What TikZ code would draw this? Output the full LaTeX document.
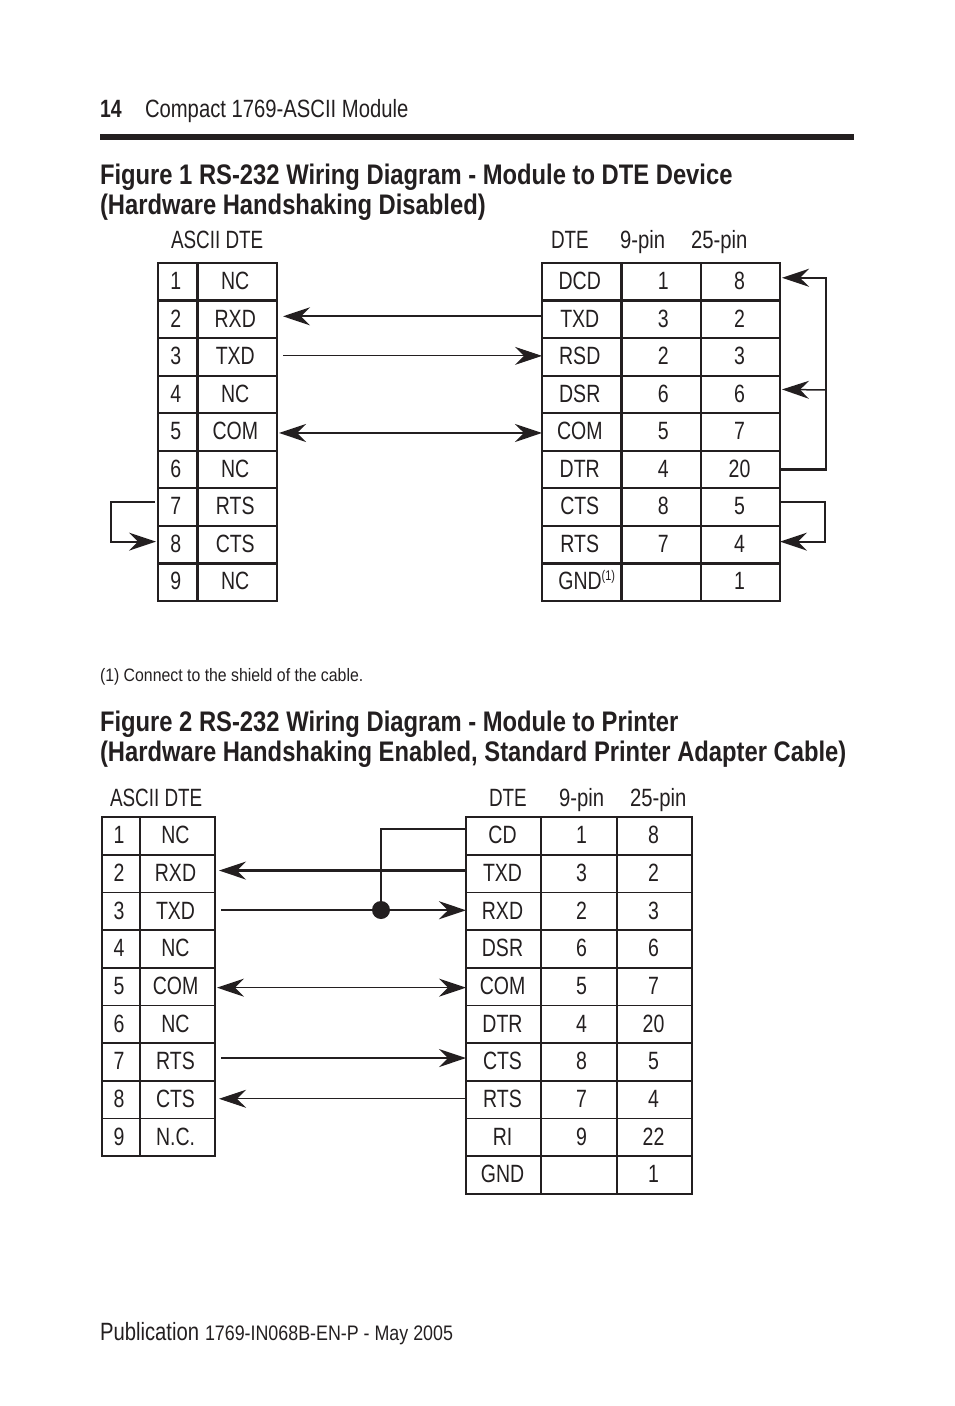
\documentclass[tikz,border=0pt]{standalone}
\usepackage{fontspec}
\usepackage{xcolor}
\usetikzlibrary{arrows.meta}
\setmainfont[FakeStretch=0.78]{Liberation Sans}
\newfontfamily\capfont[FakeStretch=0.755]{Liberation Sans}
\newfontfamily\lowfont[FakeStretch=0.81]{Liberation Sans}
\newfontfamily\headfont[FakeStretch=0.84]{Liberation Sans}
\newfontfamily\notefont[FakeStretch=0.88]{Liberation Sans}
\newfontfamily\pubfont[FakeStretch=0.85]{Liberation Sans}
\definecolor{inkblack}{HTML}{231F20}
\def\bodysize{\fontsize{25}{30}\selectfont}
\def\headsize{\fontsize{28.3}{30}\selectfont\headfont\bfseries}
\def\notesize{\fontsize{18}{22}\selectfont\notefont}
\tikzset{
  label/.style={anchor=base west,inner sep=0pt,outer sep=0pt,text=inkblack,font=\bodysize},
  caplabel/.style={label,font=\bodysize\capfont},
  lowlabel/.style={label,font=\bodysize\lowfont},
  head/.style={label,font=\headsize},
  note/.style={label,font=\notesize},
  nudge/.style={execute at begin node={\kern #1pt}},
  cellbox/.style={draw=inkblack,rectangle,inner sep=0pt,outer sep=0pt,text=inkblack,
    font=\bodysize,text height=18pt,text depth=2.5pt},
  cellone/.style={cellbox,line width=2.2pt,minimum height=37.55pt},
  celltwo/.style={cellbox,line width=1.7pt,minimum height=37.7pt},
  tip/.tip={Stealth[length=27pt,width=18pt,inset=9pt]},
  wire/.style={draw=inkblack,line width=2.2pt,>={tip}},
  thinwire/.style={wire,line width=1pt},
  tap/.style={circle,fill=inkblack,inner sep=0pt,minimum size=18pt}
}
\begin{document}
\begin{tikzpicture}[x=1pt,y=-1pt]
    \useasboundingbox (0,0) rectangle (954,1406);
    % page head
    \node[label,font=\bodysize\bfseries] (pagenum) at (100,117) {14};
    \node[lowlabel] (pagetitle) at (145,117) {Compact 1769-ASCII Module};
    \fill[inkblack] (100,134) rectangle (854,140);
    % figure 1
    \node[head] (titlea) at (100,184) {Figure 1 RS-232 Wiring Diagram - Module to DTE Device};
    \node[head] (titleb) at (100,214) {(Hardware Handshaking Disabled)};
    \node[caplabel] (asciia) at (171,248) {ASCII DTE};
    \node[caplabel] (dtea) at (551,248) {DTE};
    \node[lowlabel] (ninea) at (620,248) {9-pin};
    \node[lowlabel] (tfa) at (691,248) {25-pin};
    \foreach \i/\a in {1/NC,2/RXD,3/TXD,4/NC,5/COM,6/NC,7/RTS,8/CTS,9/NC} {
      \node[cellone,nudge=-4,minimum width=39.5pt] (ap\i) at (177.75,{263+(\i-.5)*37.55}) {\i};
      \node[cellone,nudge=-4,minimum width=79.5pt] (an\i) at (237.25,{263+(\i-.5)*37.55}) {\a};
    }
    \foreach \i/\a/\b/\c in {1/DCD/1/8,2/TXD/3/2,3/RSD/2/3,4/DSR/6/6,5/COM/5/7,6/DTR/4/20,7/CTS/8/5,8/RTS/7/4,
      9/{\kern14pt GND\raisebox{9pt}{\fontsize{14}{14}\selectfont(1)}}//1} {
      \node[cellone,nudge=-4,minimum width=79.5pt] (bn\i) at (581.75,{263+(\i-.5)*37.55}) {\a};
      \node[cellone,nudge=4,minimum width=79.5pt] (bp\i) at (661.25,{263+(\i-.5)*37.55}) {\b};
      \node[cellone,nudge=-2,minimum width=79pt] (bq\i) at (740.5,{263+(\i-.5)*37.55}) {\c};
    }
    \draw[wire,->] ([yshift=3pt]bn2.west) -- ([xshift=6pt,yshift=3pt]an2.east);
    \draw[thinwire,->] ([xshift=6pt,yshift=1pt]an3.east) -- ([yshift=1pt]bn3.west);
    \draw[wire,<->] ([xshift=2pt,yshift=-1pt]an5.east) -- ([yshift=-1pt]bn5.west);
    \draw[wire,->] (bq6.east) -- ++(46,0) |- ([xshift=2pt,yshift=4pt]bq1.east);
    \draw[wire,line width=1.5pt,->] (826,390) -- ([xshift=2pt,yshift=5pt]bq4.east);
    \draw[wire,->] ([yshift=5pt]bq7.east) -- ++(45,0) |- ([yshift=3pt]bq8.east);
    \draw[wire,->] ([xshift=-3pt,yshift=5pt]ap7.west) -- ++(-44,0) |- ([xshift=-2pt,yshift=3pt]ap8.west);
    \node[note] (shield) at (100,681) {(1) Connect to the shield of the cable.};
    % figure 2
    \node[head] (titlec) at (100,731) {Figure 2 RS-232 Wiring Diagram - Module to Printer};
    \node[head] (titled) at (100,761) {(Hardware Handshaking Enabled, Standard Printer Adapter Cable)};
    \node[caplabel] (asciib) at (110,806) {ASCII DTE};
    \node[caplabel] (dteb) at (489,806) {DTE};
    \node[lowlabel] (nineb) at (559,806) {9-pin};
    \node[lowlabel] (tfb) at (630,806) {25-pin};
    \foreach \i/\a in {1/NC,2/RXD,3/TXD,4/NC,5/COM,6/NC,7/RTS,8/CTS,9/N.C.} {
      \node[celltwo,nudge=-4,minimum width=38pt] (cp\i) at (121,{817+(\i-.5)*37.7}) {\i};
      \node[celltwo,nudge=-4,minimum width=75pt] (cn\i) at (177.5,{817+(\i-.5)*37.7}) {\a};
    }
    \foreach \i/\a/\b/\c in {1/CD/1/8,2/TXD/3/2,3/RXD/2/3,4/DSR/6/6,5/COM/5/7,6/DTR/4/20,7/CTS/8/5,8/RTS/7/4,9/RI/9/22,10/GND//1} {
      \node[celltwo,nudge=-2,minimum width=75pt] (dn\i) at (503.5,{817+(\i-.5)*37.7}) {\a};
      \node[celltwo,nudge=5,minimum width=76pt] (dp\i) at (579,{817+(\i-.5)*37.7}) {\b};
      \node[celltwo,nudge=-2,minimum width=75pt] (dq\i) at (654.5,{817+(\i-.5)*37.7}) {\c};
    }
    \node[tap] (join) at (381,910) {};
    \draw[wire] ([yshift=7pt]dn1.west) -| (join);
    \draw[wire,->] ([yshift=3pt]dn2.west) -- ([xshift=4pt,yshift=3pt]cn2.east);
    \draw[wire,->] ([xshift=6pt,yshift=1pt]cn3.east) -- ([yshift=1pt]dn3.west);
    \draw[thinwire,<->] ([xshift=2pt,yshift=-1pt]cn5.east) -- ([yshift=-1pt]dn5.west);
    \draw[wire,->] ([xshift=6pt,yshift=4pt]cn7.east) -- ([yshift=4pt]dn7.west);
    \draw[thinwire,->] ([yshift=1pt]dn8.west) -- ([xshift=4pt,yshift=1pt]cn8.east);
    % page foot
    \node[lowlabel] (pub) at (100,1340) {Publication};
    \node[label,font=\fontsize{21}{25}\selectfont\pubfont] (pubno) at (205,1340) {1769-IN068B-EN-P - May 2005};
\end{tikzpicture}
\end{document}
